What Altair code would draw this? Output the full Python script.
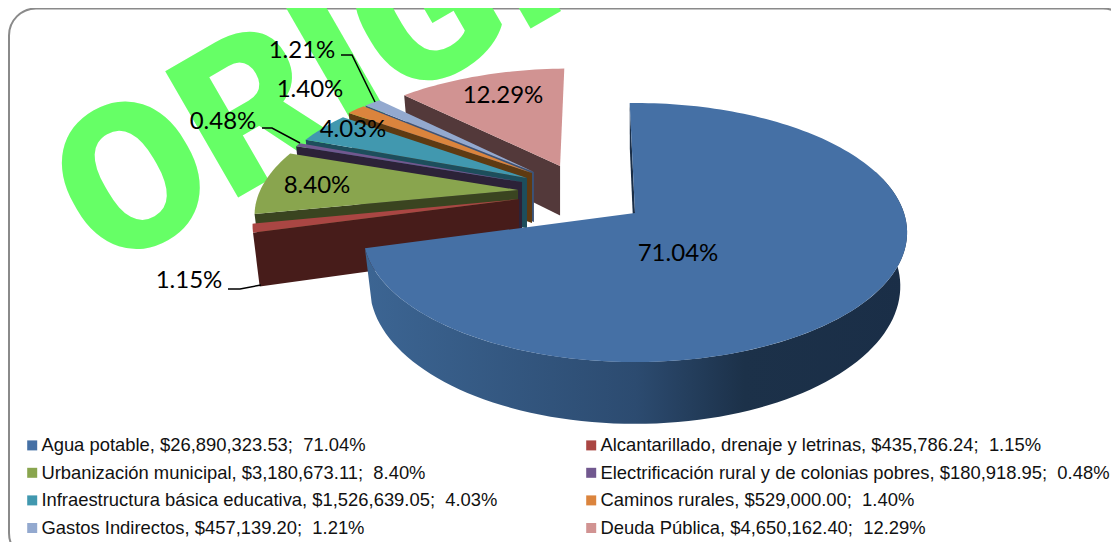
import math
import altair as alt
import pandas as pd

names = ["Agua potable", "Alcantarillado, drenaje y letrinas", "Urbanización municipal",
         "Electrificación rural y de colonias pobres", "Infraestructura básica educativa",
         "Caminos rurales", "Gastos Indirectos", "Deuda Pública"]
amounts = [26890323.53, 435786.24, 3180673.11, 180918.95, 1526639.05, 529000.00, 457139.20, 4650162.40]
pcts = [71.04, 1.15, 8.40, 0.48, 4.03, 1.40, 1.21, 12.29]
top_colors = ["#4570A5", "#AA4643", "#89A54E", "#71588F", "#4198AF", "#DB843D", "#93A9CF", "#D19392"]
wall_colors = ["#1A2E47", "#471C1A", "#3A4420", "#2C2238", "#1D4E5C", "#5E3A12", "#3B5378", "#53393A"]
explode_u = [0, -.4385, -.447, -.436, -.419, -.402, -.395, -.295]
explode_v = [0, -.112, -.187, -.254, -.2885, -.332, -.34, -.393]
radius = [1, .985, .985, .985, .985, .985, .985, .985]
start_angle = -1.3
legend_order = [0, 2, 4, 6, 1, 3, 5, 7]

pct_labels = ["71.04%", "1.15%", "8.40%", "0.48%", "4.03%", "1.40%", "1.21%", "12.29%"]
label_x = [678, 189, 317, 223, 353, 310, 302, 503]
label_y = [254, 281, 186, 122, 130, 90, 51, 96]
leaders = {"a": [(228, 289), (240, 289), (261, 285)],
           "b": [(262, 128), (272, 128), (300, 143)],
           "c": [(341, 55), (352, 55), (375, 102)]}

W, H = 1103, 534
XS = alt.Scale(domain=[8, 8 + W], range=[0, W], nice=False)
YS = alt.Scale(domain=[8, 8 + H], range=[0, H], nice=False)
X = lambda f: alt.X(f, type="quantitative", scale=XS, axis=None)
Y = lambda f: alt.Y(f, type="quantitative", scale=YS, axis=None)

CX, CY, PV, C, A, H0, SHRINK = 635, 213, 94.5, -0.1506, 269, 52.5, 0.975


def project(u, v):
    d = 1 + C * v
    return CX + A * u / d, (CY + PV * v) / d


def depth(ax, x, y, v):
    return ax + (x - ax) * SHRINK, y + H0 / (1 + C * v)


legend_labels = [f"{n}, ${a:,.2f};\u00a0\u00a0{p:.2f}%" for n, a, p in zip(names, amounts, pcts)]

starts = []
acc = start_angle
for p in pcts:
    starts.append(acc)
    acc += p * 3.6

tops, walls, rim = [], [], []
for k in [7, 6, 5, 4, 3, 2, 1, 0]:
    a0 = starts[k]
    a1 = a0 + pcts[k] * 3.6
    du, dv, r = explode_u[k], explode_v[k], radius[k]
    ax, ay = project(du, dv)
    pts = [(ax, ay)]
    n = max(2, int((a1 - a0) / 1.5))
    for i in range(n + 1):
        t = math.radians(a0 + (a1 - a0) * i / n)
        pts.append(project(du + r * math.sin(t), dv - r * math.cos(t)))
    for i, (x, y) in enumerate(pts):
        tops.append({"slice": legend_labels[k], "i": i, "x": x, "y": y})
    t = math.radians(a0)
    su, sv = du + r * math.sin(t), dv - r * math.cos(t)
    sx, sy = project(su, sv)
    bx, by = depth(ax, sx, sy, sv)
    apx, apy = depth(ax, ax, ay, dv)
    for i, (x, y) in enumerate([(sx, sy), (ax, ay), (apx, apy), (bx, by)]):
        walls.append({"slice": k, "i": i, "x": x, "y": y, "c": wall_colors[k]})

a1 = starts[0] + pcts[0] * 3.6
upper, lower = [], []
for d in list(range(70, int(a1) + 1, 2)) + [a1]:
    t = math.radians(d)
    u, v = math.sin(t), -math.cos(t)
    x, y = project(u, v)
    upper.append((x, y))
    lower.append(depth(CX, x, y, v))
for i, (x, y) in enumerate(upper + lower[::-1]):
    rim.append({"i": i, "x": x, "y": y})

lead_rows = [{"g": g, "i": i, "x": p[0], "y": p[1]} for g, ps in leaders.items() for i, p in enumerate(ps)]

frame = alt.Chart(pd.DataFrame({"a": [0]})).mark_rect(
    cornerRadius=27, fill="white", stroke="#8A8A8A", strokeWidth=2, clip=True
).encode(x=alt.value(1), x2=alt.value(1122), y=alt.value(0.5), y2=alt.value(552))

watermark = alt.Chart(pd.DataFrame({"x": [75], "y": [220], "t": ["ORIGINAL"]})).mark_text(
    font="Roboto", fontWeight=900, fontSize=205, angle=330, color="#66FF66",
    align="left", baseline="middle", clip=True
).encode(x=X("x"), y=Y("y"), text="t:N")

wall_layer = alt.Chart(pd.DataFrame(walls)).mark_line(filled=True, strokeWidth=0).encode(
    x=X("x"), y=Y("y"), order="i:Q", detail="slice:N",
    fill=alt.Fill("c:N", scale=None)
)

rim_fill = alt.Gradient(
    gradient="linear", x1=0, y1=0, x2=1, y2=0,
    stops=[alt.GradientStop(offset=0, color="#3C6593"),
           alt.GradientStop(offset=0.5, color="#2C4B70"),
           alt.GradientStop(offset=0.7, color="#1C3149"),
           alt.GradientStop(offset=1, color="#1A2E47")])
rim_layer = alt.Chart(pd.DataFrame(rim)).mark_line(fill=rim_fill, strokeWidth=0, stroke="transparent").encode(
    x=X("x"), y=Y("y"), order="i:Q"
)

top_layer = alt.Chart(pd.DataFrame(tops)).mark_line(filled=True, strokeWidth=0).encode(
    x=X("x"), y=Y("y"), order="i:Q",
    color=alt.Color("slice:N",
                    scale=alt.Scale(domain=[legend_labels[i] for i in legend_order],
                                    range=[top_colors[i] for i in legend_order]),
                    legend=alt.Legend(
                        title=None, orient="none", legendX=15, legendY=428, columns=2,
                        symbolType="square", symbolSize=100, symbolStrokeWidth=0,
                        labelFont="Liberation Sans", labelFontSize=18.4, labelColor="#111111",
                        labelLimit=600, labelOffset=0, columnPadding=84, rowPadding=8.6,
                        padding=0, symbolOpacity=1))
)

text_layer = alt.Chart(pd.DataFrame({"x": label_x, "y": label_y, "t": pct_labels})).mark_text(
    font="Lato", fontSize=24, color="#000000", align="center", baseline="middle"
).encode(x=X("x"), y=Y("y"), text="t:N")

lead_layer = alt.Chart(pd.DataFrame(lead_rows)).mark_line(color="#000000", strokeWidth=1.5).encode(
    x=X("x"), y=Y("y"), order="i:Q", detail="g:N"
)

chart = alt.layer(frame, watermark, wall_layer, rim_layer, top_layer, text_layer, lead_layer).resolve_scale(
    fill="independent"
).properties(width=W, height=H, padding=0, background="white",
             autosize=alt.AutoSizeParams(type="none")).configure_view(stroke=None)

chart.save("out.html", embed_options={"renderer": "svg", "actions": False})
